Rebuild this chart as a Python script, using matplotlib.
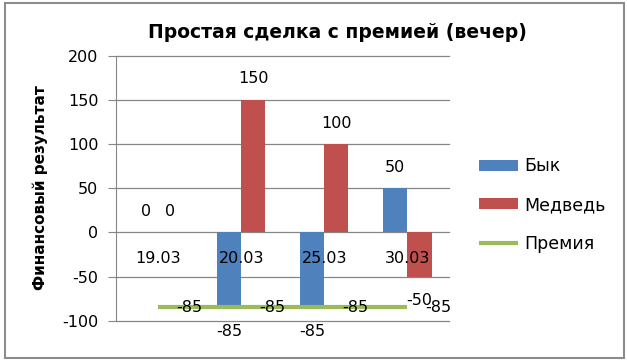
import matplotlib
matplotlib.use("Agg")
import matplotlib.pyplot as plt
from matplotlib.patches import Rectangle
import numpy as np

categories = ["19.03", "20.03", "25.03", "30.03"]
bull = [0, -85, -85, 50]
bear = [0, 150, 100, -50]
premium = [-85, -85, -85, -85]
yticks = [-100, -50, 0, 50, 100, 150, 200]

BLUE = "#4F81BD"
RED = "#C0504D"
GREEN = "#9BBB59"
GRID = "#868686"
FS = 11.5

plt.rcParams['font.family'] = ['DejaVu Sans']
plt.rcParams['axes.unicode_minus'] = False

fig = plt.figure(figsize=(6.27, 3.61), dpi=100)
W, H = 627, 361
ax = fig.add_axes([116.4 / W, 1 - 320.7 / H, (449 - 116.4) / W, (320.7 - 55.7) / H])

x = np.arange(len(categories))
bw = 0.29
h1 = ax.bar(x - bw / 2, bull, bw, color=BLUE, label="Бык", zorder=2)
h2 = ax.bar(x + bw / 2, bear, bw, color=RED, label="Медведь", zorder=2)
h3, = ax.plot(x, premium, color=GREEN, lw=3, label="Премия", zorder=3, solid_capstyle='butt')

ax.set_xlim(-0.5, len(categories) - 0.5)
ax.set_ylim(yticks[0], yticks[-1])
ax.set_yticks(yticks)
ax.set_xticks([])
for yt in yticks:
    ax.axhline(yt, color=GRID, lw=0.9, zorder=0, clip_on=False)
for s in ["top", "right", "bottom"]:
    ax.spines[s].set_visible(False)
ax.spines["left"].set_color(GRID)
ax.tick_params(axis='y', direction='out', length=6, color=GRID, pad=7, labelsize=FS)

# data labels
for i in range(len(categories)):
    for xv, v in ((x[i] - bw / 2, bull[i]), (x[i] + bw / 2, bear[i])):
        off = -24 if v < 0 else 21
        ax.annotate(str(v), (xv, v), xytext=(0, off), textcoords='offset pixels',
                    ha='center', va='center', fontsize=FS, zorder=4)
    ax.annotate(str(premium[i]), (x[i], premium[i]), xytext=(31, 0), textcoords='offset pixels',
                ha='center', va='center', fontsize=FS, zorder=4)
    ax.annotate(categories[i], (x[i], 0), xytext=(0, -26), textcoords='offset pixels',
                ha='center', va='center', fontsize=FS, zorder=4)

ax.legend(handles=[h1, h2, h3], loc='center left', bbox_to_anchor=(463 / W, 1 - 205 / H),
          bbox_transform=fig.transFigure, frameon=False, fontsize=12.5, handlelength=2.25,
          handleheight=0.6, handletextpad=0.35, labelspacing=1.2)

fig.text(337 / W, 1 - 32 / H, "Простая сделка с премией (вечер)", ha='center', va='center',
         fontsize=13.5, fontweight='bold')
fig.text(40 / W, 1 - 188 / H, "Финансовый результат", ha='center', va='center',
         rotation=90, fontsize=11, fontweight='bold')

fig.patches.append(Rectangle((5 / W, 3 / H), 619 / W, 355 / H, transform=fig.transFigure,
                             fill=False, edgecolor="#8C8C8C", lw=1.5))

fig.savefig("out.png", dpi=100)
